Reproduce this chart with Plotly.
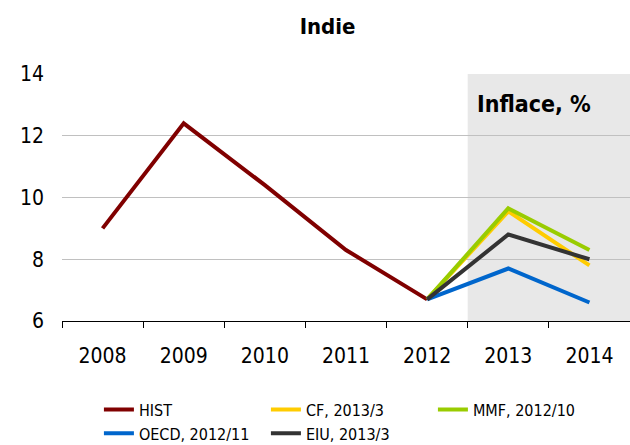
import plotly.graph_objects as go

years = ["2008", "2009", "2010", "2011", "2012", "2013", "2014"]
hist = [9.0, 12.4, 10.4, 8.3, 6.7, None, None]
forecast_years = ["2012", "2013", "2014"]
cf = [6.7, 9.55, 7.8]
mmf = [6.7, 9.65, 8.3]
oecd = [6.7, 7.7, 6.6]
eiu = [6.7, 8.8, 8.0]

FONT = "DejaVu Sans Condensed, DejaVu Sans"

fig = go.Figure()
fig.add_trace(go.Scatter(x=years, y=hist, name="HIST", mode="lines",
                         line=dict(color="#800000", width=4)))
fig.add_trace(go.Scatter(x=forecast_years, y=cf, name="CF, 2013/3", mode="lines",
                         line=dict(color="#ffcc00", width=4)))
fig.add_trace(go.Scatter(x=forecast_years, y=mmf, name="MMF, 2012/10", mode="lines",
                         line=dict(color="#99cc00", width=4)))
fig.add_trace(go.Scatter(x=forecast_years, y=oecd, name="OECD, 2012/11", mode="lines",
                         line=dict(color="#0066cc", width=4)))
fig.add_trace(go.Scatter(x=forecast_years, y=eiu, name="EIU, 2013/3", mode="lines",
                         line=dict(color="#333333", width=4)))

# shaded forecast period
fig.add_shape(type="rect", xref="x", yref="paper", x0=4.5, x1=6.5, y0=0, y1=1,
              fillcolor="#e8e8e8", line_width=0, layer="below")
fig.add_annotation(text="<b>Inflace, %</b>", xref="paper", yref="paper",
                   x=0.727, y=0.878, xanchor="left", yanchor="middle",
                   showarrow=False, font=dict(size=23, color="black", family=FONT))

fig.update_layout(
    width=630, height=445,
    margin=dict(l=62, r=0, t=74, b=124, autoexpand=False),
    paper_bgcolor="white", plot_bgcolor="white",
    font=dict(family=FONT, size=21, color="black"),
    title=dict(text="<b>Indie</b>", x=0.52, xanchor="center", y=0.94, yanchor="middle",
               yref="container", font=dict(size=22)),
    showlegend=True,
    legend=dict(orientation="h", x=0.065, xanchor="left", y=-0.29, yanchor="top",
                entrywidth=122, entrywidthmode="pixels", traceorder="normal",
                font=dict(size=16), tracegroupgap=0),
)
fig.update_xaxes(type="category", range=[-0.5, 6.5], showgrid=False,
                 showline=True, linecolor="black", linewidth=1,
                 ticks="outside", tickson="boundaries", ticklen=6, tickcolor="black",
                 ticklabelstandoff=16)
fig.update_yaxes(range=[6, 14], dtick=2, showgrid=True, gridcolor="#c0c0c0",
                 gridwidth=1, zeroline=False, showline=False, ticks="", ticklabelstandoff=17)

fig.write_html("out.html", config={"displayModeBar": False},
               post_script="document.body.style.margin='0';")
